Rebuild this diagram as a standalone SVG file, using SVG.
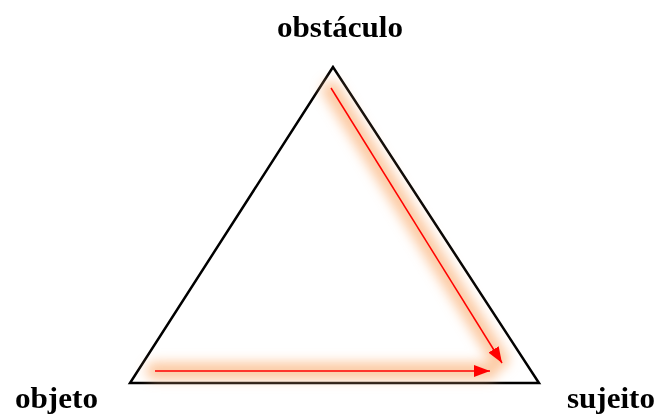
<svg xmlns="http://www.w3.org/2000/svg" width="659" height="417" viewBox="0 0 659 417">
<style>
.lbl{font-family:"Liberation Serif","Times New Roman",serif;font-weight:bold;font-size:29px;fill:#000}
.glow{stroke:#fbb47c;stroke-width:18;fill:none;stroke-linecap:round;opacity:0.7}
.arr{stroke:#ff0000;stroke-width:1.5;fill:none}
</style>
<defs>
<filter id="blur" x="-20%" y="-20%" width="140%" height="140%"><feGaussianBlur stdDeviation="6"/></filter>
<marker id="ah" viewBox="0 0 16 12" refX="16" refY="6" markerWidth="16" markerHeight="12" markerUnits="userSpaceOnUse" orient="auto"><path d="M0,0 L16,6 L0,12 Z" fill="#ff0000"/></marker>
</defs>
<g id="triangle"><polygon points="333,67 130,383 539,383" fill="#fff" stroke="#000" stroke-width="2.5" stroke-linejoin="miter"/></g>
<g id="connectors">
<g filter="url(#blur)">
<line class="glow" x1="331" y1="90" x2="500" y2="360"/>
<line class="glow" x1="155" y1="371" x2="489" y2="371"/>
</g>
<line class="arr" x1="331" y1="88" x2="502" y2="363" marker-end="url(#ah)"/>
<line class="arr" x1="155" y1="371" x2="490" y2="371" marker-end="url(#ah)"/>
</g>
<g id="obstaculo"><text class="lbl" x="277" y="37" textLength="126" lengthAdjust="spacingAndGlyphs">obstáculo</text></g>
<g id="objeto"><text class="lbl" x="15" y="408" textLength="83" lengthAdjust="spacingAndGlyphs">objeto</text></g>
<g id="sujeito"><text class="lbl" x="567" y="408" textLength="88" lengthAdjust="spacingAndGlyphs">sujeito</text></g>
</svg>
